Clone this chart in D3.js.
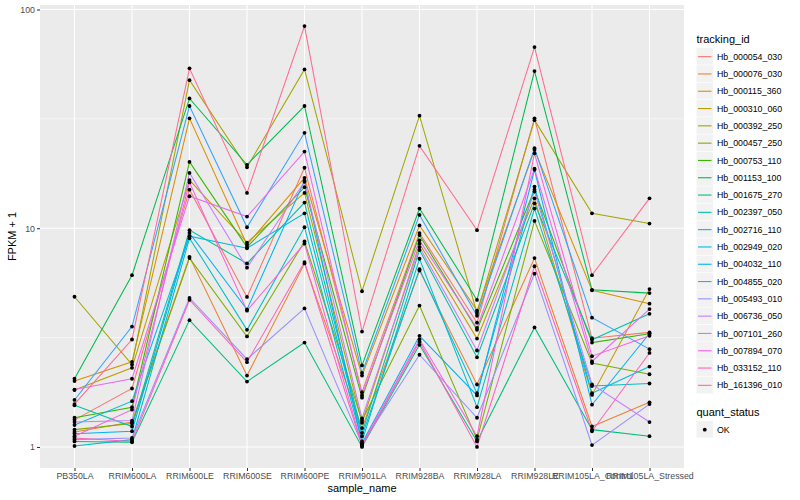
<!DOCTYPE html>
<html>
<head>
<meta charset="utf-8">
<script src="https://cdn.jsdelivr.net/npm/d3@7"></script>
<style>
  body { margin: 0; background: #fff; }
  text { font-family: "Liberation Sans", Arial, Helvetica, sans-serif; }
</style>
</head>
<body>
<svg id="chart" width="800" height="500"></svg>
<script>
// ---- data ----
const samples = ["PB350LA", "RRIM600LA", "RRIM600LE", "RRIM600SE", "RRIM600PE", "RRIM901LA",
  "RRIM928BA", "RRIM928LA", "RRIM928LE", "RRIM105LA_Control", "RRIM105LA_Stressed"];

const trackingIds = ["Hb_000054_030", "Hb_000076_030", "Hb_000115_360", "Hb_000310_060",
  "Hb_000392_250", "Hb_000457_250", "Hb_000753_110", "Hb_001153_100", "Hb_001675_270",
  "Hb_002397_050", "Hb_002716_110", "Hb_002949_020", "Hb_004032_110", "Hb_004855_020",
  "Hb_005493_010", "Hb_006736_050", "Hb_007101_260", "Hb_007894_070", "Hb_033152_110",
  "Hb_161396_010"];

// FPKM + 1, one row per tracking_id, columns follow `samples`
const fpkmPlus1 = [
  [1.33, 1.85, 15.0, 4.85, 18.9, 1.78, 9.5, 3.7, 31.8, 3.14, 3.34],
  [1.17, 1.30, 7.4, 2.12, 6.9, 1.22, 6.4, 1.93, 7.3, 1.24, 1.6],
  [2.0, 2.45, 31.8, 8.4, 17.0, 2.12, 10.3, 4.2, 22.8, 5.2, 4.52],
  [1.82, 2.3, 16.6, 8.6, 14.5, 1.29, 8.5, 3.13, 13.7, 1.73, 5.27],
  [4.86, 2.38, 47.5, 19.0, 53.2, 5.15, 32.7, 4.1, 31.2, 11.7, 10.5],
  [1.20, 1.28, 7.3, 3.2, 8.7, 1.32, 4.43, 1.08, 10.8, 2.42, 2.15],
  [1.36, 1.52, 20.1, 8.2, 15.4, 1.68, 9.3, 3.43, 15.0, 3.0, 3.29],
  [2.05, 6.1, 39.2, 19.5, 36.2, 2.36, 12.3, 4.7, 52.3, 5.23, 5.05],
  [1.06, 1.05, 3.8, 1.99, 3.0, 1.00, 2.93, 1.06, 3.52, 1.2, 1.12],
  [1.55, 1.24, 9.8, 6.9, 13.1, 1.16, 7.95, 2.57, 13.0, 3.09, 4.06],
  [1.01, 1.08, 9.0, 3.43, 10.1, 1.06, 7.25, 1.52, 12.3, 1.9, 1.95],
  [1.26, 1.62, 9.2, 8.1, 11.7, 1.12, 6.5, 1.76, 15.5, 1.76, 2.33],
  [1.15, 1.18, 9.5, 4.25, 16.5, 1.04, 3.22, 1.72, 18.5, 1.56, 3.3],
  [1.64, 3.55, 36.2, 10.1, 27.3, 2.18, 11.5, 3.98, 23.2, 3.9, 2.8],
  [1.08, 1.10, 4.8, 2.52, 4.3, 1.03, 2.64, 1.36, 6.2, 1.02, 1.57],
  [1.30, 1.32, 17.9, 6.6, 16.3, 1.35, 8.2, 2.76, 14.7, 1.93, 1.30],
  [1.83, 2.05, 14.0, 11.3, 22.4, 1.72, 8.8, 3.5, 18.7, 2.46, 4.27],
  [1.12, 1.48, 16.2, 4.2, 8.5, 1.02, 3.1, 1.12, 22.0, 2.6, 3.22],
  [1.10, 1.06, 4.7, 2.44, 7.0, 1.01, 3.03, 1.0, 6.7, 1.18, 2.69],
  [1.57, 3.1, 53.8, 14.5, 84.0, 3.37, 23.8, 9.8, 67.3, 6.1, 13.7]
];

const yTickValues = [1, 10, 100];
const yTickLabels = ["1", "10", "100"];
const yMinorValues = [Math.sqrt(10), Math.sqrt(1000)];
const quantStatus = ["OK"];

// ---- layout ----
const svg = d3.select("#chart");
const panel = { left: 40, right: 684, top: 5, bottom: 468 };
const palette = ["#F8766D", "#EA8331", "#D89000", "#C09B00", "#A3A500", "#7CAE00", "#39B600",
  "#00BB4E", "#00BF7D", "#00C1A3", "#00BFC4", "#00BAE0", "#00B0F6", "#35A2FF", "#9590FF",
  "#C77CFF", "#E76BF3", "#FA62DB", "#FF62BC", "#FF6C91"];

const color = d3.scaleOrdinal().domain(trackingIds).range(palette);

const x = d3.scalePoint().domain(samples).range([panel.left, panel.right]).padding(0.6);

const allVals = fpkmPlus1.flat();
const lmin = Math.log10(d3.min(allVals)), lmax = Math.log10(d3.max(allVals));
const ex = (lmax - lmin) * 0.05;
const y = d3.scaleLog().domain([Math.pow(10, lmin - ex), Math.pow(10, lmax + ex)])
  .range([panel.bottom, panel.top]);

// panel background
svg.append("rect").attr("x", panel.left).attr("y", panel.top)
  .attr("width", panel.right - panel.left).attr("height", panel.bottom - panel.top)
  .attr("fill", "#EBEBEB");

// minor grid
svg.append("g").selectAll("line").data(yMinorValues).join("line")
  .attr("x1", panel.left).attr("x2", panel.right)
  .attr("y1", d => y(d)).attr("y2", d => y(d))
  .attr("stroke", "#fff").attr("stroke-width", 0.55);

// major grid
svg.append("g").selectAll("line").data(yTickValues).join("line")
  .attr("x1", panel.left).attr("x2", panel.right)
  .attr("y1", d => y(d)).attr("y2", d => y(d))
  .attr("stroke", "#fff").attr("stroke-width", 1.1);
svg.append("g").selectAll("line").data(samples).join("line")
  .attr("x1", d => x(d)).attr("x2", d => x(d))
  .attr("y1", panel.top).attr("y2", panel.bottom)
  .attr("stroke", "#fff").attr("stroke-width", 1.1);

// series
const series = trackingIds.map((id, i) => ({
  id, values: samples.map((s, j) => ({ sample: s, v: fpkmPlus1[i][j] }))
}));

const line = d3.line().x(d => x(d.sample)).y(d => y(d.v));
svg.append("g").selectAll("path").data(series).join("path")
  .attr("d", d => line(d.values))
  .attr("fill", "none")
  .attr("stroke", d => color(d.id))
  .attr("stroke-width", 1.05);

svg.append("g").selectAll("circle").data(series.flatMap(s => s.values)).join("circle")
  .attr("cx", d => x(d.sample)).attr("cy", d => y(d.v))
  .attr("r", 1.9).attr("fill", "#000");

// axes
const xAxis = d3.axisBottom(x).tickSize(3).tickPadding(2);
const gx = svg.append("g").attr("transform", `translate(0,${panel.bottom})`).call(xAxis);
gx.select(".domain").remove();
gx.selectAll(".tick line").attr("stroke", "#333333").attr("stroke-width", 1.05);
gx.selectAll(".tick text").attr("fill", "#4D4D4D").attr("font-size", 8.8)
  .attr("font-family", "Liberation Sans, Arial, sans-serif");

const yAxis = d3.axisLeft(y).tickValues(yTickValues)
  .tickFormat((d, i) => yTickLabels[i]).tickSize(3).tickPadding(2);
const gy = svg.append("g").attr("transform", `translate(${panel.left},0)`).call(yAxis);
gy.select(".domain").remove();
gy.selectAll(".tick line").attr("stroke", "#333333").attr("stroke-width", 1.05);
gy.selectAll(".tick text").attr("fill", "#4D4D4D").attr("font-size", 8.8)
  .attr("font-family", "Liberation Sans, Arial, sans-serif");

// axis titles
svg.append("text").attr("x", (panel.left + panel.right) / 2).attr("y", 492)
  .attr("text-anchor", "middle").attr("font-size", 11).attr("fill", "#000").text("sample_name");
svg.append("text").attr("transform", `translate(16,${(panel.top + panel.bottom) / 2}) rotate(-90)`)
  .attr("text-anchor", "middle").attr("font-size", 11).attr("fill", "#000").text("FPKM + 1");

// legend: tracking_id
const lg = svg.append("g");
const keyX = 696.5, keyW = 16.5, keyH = 17.3, firstY = 48;
lg.append("text").attr("x", keyX).attr("y", 43).attr("font-size", 11).text("tracking_id");
const items = lg.selectAll("g.item").data(trackingIds).join("g").attr("class", "item")
  .attr("transform", (d, i) => `translate(${keyX},${firstY + i * keyH})`);
items.append("rect").attr("width", keyW).attr("height", keyH - 0.6).attr("fill", "#F2F2F2");
items.append("line").attr("x1", 1.5).attr("x2", keyW - 1.5)
  .attr("y1", keyH / 2).attr("y2", keyH / 2)
  .attr("stroke", d => color(d)).attr("stroke-width", 1.1);
items.append("text").attr("x", keyW + 4).attr("y", keyH / 2 + 3.1)
  .attr("font-size", 8.8).attr("fill", "#000").text(d => d);

// legend: quant_status
const qg = svg.append("g");
qg.append("text").attr("x", keyX).attr("y", 416).attr("font-size", 11).text("quant_status");
const qi = qg.selectAll("g.q").data(quantStatus).join("g").attr("class", "q")
  .attr("transform", (d, i) => `translate(${keyX},${421 + i * keyH})`);
qi.append("rect").attr("width", keyW).attr("height", keyH - 0.6).attr("fill", "#F2F2F2");
qi.append("circle").attr("cx", keyW / 2).attr("cy", keyH / 2).attr("r", 1.9).attr("fill", "#000");
qi.append("text").attr("x", keyW + 4).attr("y", keyH / 2 + 3.1)
  .attr("font-size", 8.8).attr("fill", "#000").text(d => d);
</script>
</body>
</html>
